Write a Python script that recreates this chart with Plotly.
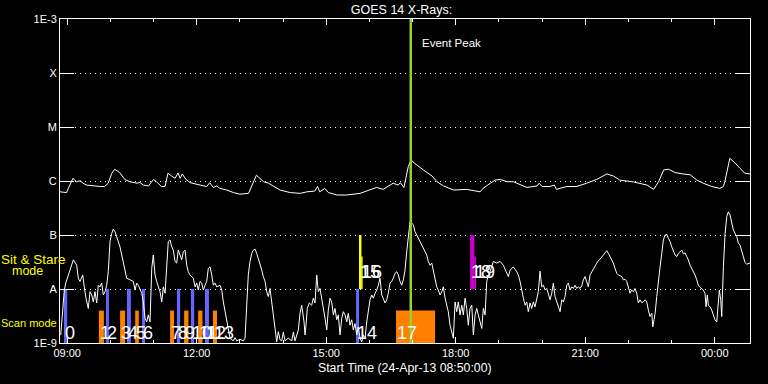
import datetime as dt
import plotly.graph_objects as go

START = dt.datetime(2013, 4, 24, 8, 50, 0)
END_MIN = 959  # minutes after start shown on the time axis

# GOES 14 long channel (1-8 A), minutes after start, flux W/m^2
long_minutes = [0, 9, 18, 23, 28, 32, 37, 46, 56, 62, 67, 72, 76, 83, 90, 97, 107, 111, 116, 123,
                130, 134, 141, 146, 150, 155, 160, 164, 167, 170, 175, 181, 185, 195, 204, 208, 213,
                218, 222, 232, 241, 250, 262, 266, 273, 283, 290, 296, 306, 320, 334, 343, 354, 358,
                361, 368, 373, 385, 398, 417, 431, 440, 449, 456, 463, 470, 473, 478, 484, 488, 493,
                505, 517, 524, 533, 547, 565, 584, 588, 598, 605, 612, 621, 630, 639, 649, 663, 666,
                670, 681, 687, 690, 704, 718, 732, 746, 760, 769, 778, 797, 816, 825, 832, 839, 846,
                855, 866, 876, 885, 894, 906, 917, 922, 924, 931, 938, 945, 952, 959]
long_flux = [6.3e-7, 6.1e-7, 1.12e-6, 9.7e-7, 1.01e-6, 9.1e-7, 8.4e-7, 8.1e-7, 7.9e-7, 7.9e-7,
             9.1e-7, 1.39e-6, 1.65e-6, 1.43e-6, 1.07e-6, 9.7e-7, 9.1e-7, 9.4e-7, 8.4e-7, 8.1e-7,
             1.07e-6, 9.7e-7, 7.9e-7, 7.9e-7, 1.39e-6, 1.24e-6, 1.12e-6, 1.41e-6, 1.12e-6, 1.35e-6,
             1.07e-6, 9.3e-7, 9.1e-7, 8.4e-7, 7.9e-7, 9.3e-7, 7.6e-7, 8.1e-7, 7.3e-7, 6.8e-7,
             6.1e-7, 5.7e-7, 5.9e-7, 7.9e-7, 1.28e-6, 9.7e-7, 9.1e-7, 8.1e-7, 6.8e-7, 6.1e-7,
             5.9e-7, 6.3e-7, 6.5e-7, 7.9e-7, 6.3e-7, 7.3e-7, 6.1e-7, 5.5e-7, 5.5e-7, 5.9e-7,
             6.8e-7, 7.6e-7, 7.0e-7, 8.1e-7, 9.1e-7, 8.4e-7, 9.3e-7, 7.6e-7, 1.84e-6, 2.45e-6,
             2.12e-6, 1.6e-6, 1.24e-6, 9.7e-7, 8.1e-7, 6.8e-7, 7.0e-7, 6.3e-7, 7.3e-7, 9.1e-7,
             1.04e-6, 1.07e-6, 9.7e-7, 9.7e-7, 8.7e-7, 7.6e-7, 8.1e-7, 9.1e-7, 7.9e-7, 7.9e-7,
             8.4e-7, 7.0e-7, 7.9e-7, 7.9e-7, 9.1e-7, 1.07e-6, 1.35e-6, 1.24e-6, 1.04e-6, 9.6e-7,
             8.4e-7, 7.0e-7, 9.7e-7, 1.6e-6, 1.65e-6, 1.43e-6, 1.35e-6, 1.3e-6, 1.04e-6, 9.1e-7,
             7.9e-7, 7.3e-7, 7.9e-7, 9.7e-7, 2.63e-6, 2.18e-6, 1.72e-6, 1.39e-6, 1.35e-6]

# GOES 14 short channel (0.5-4 A), minutes after start, log10 of flux W/m^2
short_minutes = [1, 6, 8, 18.5, 23.2, 25.4, 27.8, 30.2, 31.6, 33.4, 36.1, 39.3, 41.7, 44.1, 46.3,
                 48.7, 51, 53.2, 55.6, 58, 60.2, 62.6, 64.9, 67.1, 69.5, 71.9, 74.1, 76.5, 78.8, 81,
                 83.4, 85.8, 88, 90.4, 92.7, 97.3, 101.9, 104.3, 106.6, 108.8, 111.2, 113.6, 115.8,
                 118.2, 120.5, 122.7, 125.1, 127.5, 129.7, 132.1, 134.4, 139, 141.4, 143.6, 146,
                 148.3, 150.5, 152.9, 155.3, 157.5, 159.9, 162.2, 164.4, 166.8, 169.2, 171.4, 173.8,
                 176.1, 178.3, 180.7, 183.1, 185.3, 187.7, 190, 192.2, 194.6, 197, 199.2, 201.6,
                 203.9, 206.1, 208.5, 210.9, 213.1, 215.5, 217.8, 222.4, 224.8, 227, 229.4, 231.7,
                 233.9, 236.3, 238.7, 240.9, 243.3, 245.6, 250.2, 254.8, 257.2, 259.5, 261.7, 264.1,
                 266.5, 268.7, 271.1, 273.4, 275.6, 278, 280.4, 282.6, 285, 287.3, 289.5, 291.9,
                 294.3, 296.5, 298.9, 301.2, 303.4, 305.8, 308.2, 310.4, 312.8, 317.3, 322.1, 324.3,
                 326.7, 331.2, 333.6, 335.9, 339.2, 340.6, 341.9, 343.7, 346.5, 349.8, 352.1, 354.4,
                 356.8, 359, 361.4, 363.7, 366, 368.3, 370.7, 372.9, 375.3, 377.6, 379.9, 382.2,
                 384.6, 386.8, 389.2, 391.6, 393.8, 396.2, 398.5, 400.7, 403.1, 405.5, 407.7, 410,
                 412.4, 414.6, 417, 419.3, 421.6, 424, 426.3, 428.5, 430.9, 433.3, 435.5, 437.9,
                 440.2, 442.4, 444.8, 447.2, 449.4, 451.8, 454.1, 456.3, 458.7, 461, 463.3, 465.6,
                 468, 470.2, 472.6, 474.9, 477.2, 479.5, 481.9, 484.1, 486.5, 491.1, 493.4, 495.8,
                 500.4, 505, 509.7, 511.9, 514.3, 516.7, 518.9, 521.3, 523.6, 525.8, 528.2, 530.6,
                 532.8, 535.2, 537.5, 539.7, 542.1, 544.5, 546.7, 549.1, 551.4, 553.6, 556, 558.4,
                 560.6, 563, 565.3, 567.5, 569.9, 572.3, 574.5, 576.9, 579.2, 581.4, 583.8, 586.2,
                 588.4, 590.8, 593.1, 595.3, 597.7, 600.1, 602.3, 607, 611.6, 616.2, 620.9, 623.1,
                 625.5, 630.1, 634.8, 637, 639.4, 641.8, 644, 646.4, 648.7, 650.9, 653.3, 655.6,
                 657.9, 660.2, 662.6, 664.8, 667.2, 669.5, 671.8, 674.2, 676.5, 678.7, 681.1, 683.4,
                 685.7, 688, 690.4, 692.6, 695, 697.4, 699.6, 701.9, 704.3, 706.5, 708.9, 711.3,
                 713.5, 715.9, 718.2, 720.4, 722.8, 725.2, 727.4, 729.8, 732.1, 734.3, 736.7, 739,
                 741.3, 743.6, 746, 748.2, 750.6, 752.9, 755.2, 757.6, 759.9, 762.1, 764.5, 766.9,
                 769.1, 771.5, 773.8, 776, 778.4, 780.8, 783, 785.4, 787.7, 789.9, 792.3, 794.6,
                 796.9, 799.2, 801.6, 803.8, 806.2, 808.5, 810.8, 813.2, 815.5, 817.7, 820.1, 822.5,
                 823.9, 825.7, 827.1, 829.4, 831.6, 834, 836.4, 838.6, 841, 843.3, 845.5, 847.9,
                 850.2, 852.4, 854.8, 857.2, 859.4, 861.8, 864.2, 866.4, 868.8, 871.1, 873.3, 875.7,
                 878.1, 880.3, 882.6, 885, 887.2, 889.6, 891.9, 894.1, 896.5, 897.9, 899.7, 901.1,
                 903.5, 905.8, 908, 910.4, 912.8, 915, 916.4, 918.3, 919.7, 922, 924.4, 926.7, 928.9,
                 931.3, 933.7, 935.9, 940.6, 942.8, 945.2, 947.5, 949.7, 952.1, 954.5, 959.1]
short_log_flux = [-8.85, -8.02, -7.89, -7.46, -7.56, -7.80, -7.86, -7.77, -7.74, -7.93, -8.17, -8.36,
                  -8.05, -8.11, -8.24, -8.05, -8.26, -7.93, -7.96, -7.89, -8.11, -8.05, -7.93, -7.68,
                  -7.12, -6.97, -6.89, -6.94, -7.03, -7.12, -7.22, -7.37, -7.49, -7.62, -7.80, -7.83,
                  -7.86, -8.02, -7.89, -7.93, -8.02, -8.08, -8.24, -8.54, -8.61, -8.48, -8.61, -7.62,
                  -7.37, -7.74, -7.86, -8.05, -8.24, -7.96, -8.08, -7.68, -7.12, -7.09, -7.22, -7.28,
                  -7.49, -7.52, -7.28, -7.37, -7.46, -7.31, -7.28, -7.56, -7.68, -7.74, -7.77, -7.80,
                  -7.96, -7.89, -8.02, -7.86, -7.89, -8.02, -7.93, -7.86, -7.62, -7.59, -7.74, -7.93,
                  -7.89, -7.96, -7.93, -8.02, -8.24, -8.42, -8.61, -8.79, -8.91, -8.94, -8.96, -8.90,
                  -8.96, -8.93, -8.96, -8.91, -8.17, -7.74, -7.49, -7.34, -7.28, -7.26, -7.34, -7.43,
                  -7.52, -7.65, -7.77, -7.86, -8.05, -8.14, -7.99, -8.24, -8.42, -8.67, -8.98, -8.79,
                  -8.94, -8.96, -8.80, -8.96, -8.91, -8.96, -8.80, -8.96, -8.76, -8.45, -8.30, -8.61,
                  -8.85, -8.67, -8.36, -8.26, -8.30, -8.17, -8.26, -7.74, -8.05, -7.99, -8.17, -8.30,
                  -8.54, -8.76, -8.39, -8.17, -8.24, -8.48, -8.36, -8.57, -8.48, -8.85, -8.54, -8.42,
                  -8.48, -8.61, -8.45, -8.67, -8.57, -8.76, -8.64, -8.85, -8.70, -8.91, -8.98, -8.85,
                  -8.91, -8.61, -8.36, -8.20, -8.11, -8.17, -8.08, -8.02, -7.93, -7.80, -8.11, -8.20,
                  -8.26, -8.20, -8.08, -7.89, -7.86, -7.80, -7.71, -7.68, -7.74, -7.86, -7.93, -7.83,
                  -7.65, -7.31, -7.00, -6.75, -6.81, -6.94, -7.00, -7.12, -7.25, -7.37, -7.49, -7.56,
                  -7.52, -7.68, -7.80, -7.96, -8.02, -8.11, -8.05, -7.96, -8.17, -8.33, -8.42, -8.67,
                  -8.79, -8.91, -8.24, -8.42, -8.24, -8.48, -8.30, -8.48, -8.17, -8.36, -8.67, -8.36,
                  -8.30, -8.85, -8.48, -8.36, -8.48, -8.61, -8.73, -8.36, -8.48, -7.86, -7.74, -7.68,
                  -7.56, -7.49, -7.52, -7.49, -7.56, -7.71, -7.77, -7.65, -7.59, -7.68, -7.74, -7.86,
                  -8.05, -8.17, -8.30, -8.24, -8.42, -8.26, -8.36, -8.24, -8.33, -8.20, -8.05, -7.67,
                  -7.96, -7.93, -8.02, -7.99, -8.08, -8.20, -8.08, -7.89, -8.14, -8.24, -8.33, -8.42,
                  -8.20, -8.24, -8.14, -7.93, -7.89, -8.02, -7.96, -7.99, -7.93, -7.99, -7.96, -7.99,
                  -7.94, -7.83, -7.77, -7.86, -7.96, -7.74, -7.68, -7.65, -7.59, -7.52, -7.48, -7.45,
                  -7.41, -7.37, -7.33, -7.29, -7.34, -7.40, -7.46, -7.52, -7.62, -7.71, -7.74, -7.76,
                  -7.77, -7.83, -7.82, -7.86, -7.96, -8.08, -8.02, -8.05, -7.99, -8.08, -8.26, -8.20,
                  -8.25, -8.24, -8.20, -8.24, -8.39, -8.51, -8.45, -8.70, -8.57, -8.45, -8.14, -7.83,
                  -7.59, -7.34, -7.09, -7.00, -6.99, -7.06, -7.12, -7.22, -7.31, -7.37, -7.40, -7.34,
                  -7.31, -7.28, -7.35, -7.33, -7.40, -7.46, -7.56, -7.62, -7.68, -7.74, -7.83, -7.93,
                  -7.97, -7.99, -8.02, -8.08, -8.33, -8.11, -8.30, -8.33, -8.39, -8.48, -8.57, -8.61,
                  -8.26, -8.02, -8.20, -8.51, -7.59, -6.97, -6.66, -6.57, -6.63, -6.78, -6.91, -7.03,
                  -7.15, -7.19, -7.31, -7.43, -7.51, -7.54, -7.52]

# Observations (numbered 0-19): start/end minutes after START
obs_ids = list(range(20))
obs_start_min = [5.5, 54, 64, 83.5, 93, 104.5, 114, 153, 162.5, 172.5, 182, 192, 201.5, 212.5,
                 411.5, 415.6, 418.6, 467, 570, 576]
obs_end_min = [10, 61, 68, 90.5, 98.5, 109.5, 118.2, 158.5, 167, 178.5, 186.5, 198, 207, 218.2,
               415.6, 419, 420.6, 521.3, 576, 578.3]
obs_mode = ["scan"] * 15 + ["sit", "sit", "scan", "sit", "sit"]
obs_fraction = [1, 0.6, 1, 0.6, 1, 0.6, 1, 0.6, 1, 0.6, 1, 0.6, 1, 0.6, 1, 1, 0.6, 0.6, 1, 0.6]
obs_color = ["#6666ff", "#ff8000", "#6666ff", "#ff8000", "#6666ff", "#ff8000", "#6666ff",
             "#ff8000", "#6666ff", "#ff8000", "#6666ff", "#ff8000", "#6666ff", "#ff8000",
             "#6666ff", "#ffff00", "#ffff00", "#ff8000", "#cc00cc", "#cc00cc"]
band_base_log = {"scan": -9, "sit": -8}

event_peak_min = 487.5

ytick_vals = [1e-9, 1e-8, 1e-7, 1e-6, 1e-5, 1e-4, 1e-3]
ytick_text = ["1E-9", "A", "B", "C", "M", "X", "1E-3"]


def tm(m):
    return START + dt.timedelta(minutes=m)


FONT = "Liberation Sans"
fig = go.Figure()

# observation bars
for i, c in enumerate(obs_color):
    b = band_base_log[obs_mode[i]]
    lo, hi = 10 ** b, 10 ** (b + obs_fraction[i])
    t0, t1 = tm(obs_start_min[i]), tm(obs_end_min[i])
    fig.add_trace(go.Scatter(x=[t0, t1, t1, t0, t0], y=[lo, lo, hi, hi, lo], mode="lines",
                             fill="toself", fillcolor=c, line=dict(width=0, color=c),
                             hoverinfo="skip", showlegend=False))

fig.add_trace(go.Scatter(x=[tm(m) for m in long_minutes], y=long_flux, mode="lines",
                         line=dict(color="white", width=1), showlegend=False))
fig.add_trace(go.Scatter(x=[tm(m) for m in short_minutes], y=[10 ** v for v in short_log_flux],
                         mode="lines", line=dict(color="white", width=1), showlegend=False))
fig.add_trace(go.Scatter(x=[tm(event_peak_min)] * 2, y=[1e-9, 1e-3], mode="lines",
                         line=dict(color="#9acd32", width=2.5), showlegend=False))

# observation numbers
for i in obs_ids:
    ylab = -8.82 if obs_mode[i] == "scan" else -7.69
    fig.add_annotation(x=tm(obs_start_min[i]), y=ylab, text=str(i), showarrow=False,
                       xanchor="left", yanchor="middle", xshift=-1,
                       font=dict(family=FONT, size=18, color="white"))

fig.add_annotation(x=tm(event_peak_min), y=0.926, yref="paper", text="Event Peak", showarrow=False,
                   xanchor="left", yanchor="middle", xshift=9,
                   font=dict(family=FONT, size=11.5, color="white"))
fig.add_annotation(x=-0.0841, xref="paper", y=0.259, yref="paper", text="Sit & Stare",
                   showarrow=False, xanchor="left", yanchor="middle", xshift=-3,
                   font=dict(family=FONT, size=13.5, color="yellow"))
fig.add_annotation(x=-0.0681, xref="paper", y=0.222, yref="paper", text="mode",
                   showarrow=False, xanchor="left", yanchor="middle", xshift=-3,
                   font=dict(family=FONT, size=12.5, color="yellow"))
fig.add_annotation(x=-0.0841, xref="paper", y=0.0617, yref="paper", text="Scan mode",
                   showarrow=False, xanchor="left", yanchor="middle", xshift=-3,
                   font=dict(family=FONT, size=11, color="yellow"))
fig.add_annotation(x=0.5, xref="paper", y=-0.077, yref="paper",
                   text="Start Time (" + START.strftime("%d-%b-%y %H:%M:%S") + ")",
                   showarrow=False, xanchor="center", yanchor="middle",
                   font=dict(family=FONT, size=12.3, color="white"))

fig.update_layout(
    width=768, height=384,
    margin=dict(l=60, r=18, t=19, b=41),
    paper_bgcolor="black", plot_bgcolor="black",
    title=dict(text="GOES 14 X-Rays:", x=0.495, xref="paper", y=0.974, yref="container",
               xanchor="center", yanchor="middle",
               font=dict(family=FONT, size=12.5, color="white")),
    font=dict(family=FONT, color="white", size=11),
    xaxis=dict(type="date", range=[START, tm(END_MIN)], tickformat="%H:%M",
               tick0="2013-04-24 09:00:00", dtick=3 * 3600 * 1000,
               ticks="inside", ticklen=6, tickcolor="white", tickwidth=1,
               minor=dict(tick0="2013-04-24 09:00:00", dtick=3600 * 1000, ticks="inside",
                          ticklen=3, tickcolor="white"),
               showline=True, linecolor="white", linewidth=1, mirror="ticks",
               showgrid=False, zeroline=False, tickfont=dict(size=11, color="white")),
    yaxis=dict(type="log", range=[-9, -3], tickmode="array", tickvals=ytick_vals,
               ticktext=ytick_text, ticks="inside", ticklen=14, tickcolor="white",
               showline=True, linecolor="white", linewidth=1, mirror="ticks",
               showgrid=True, gridcolor="white", gridwidth=1, griddash="1px,4px",
               zeroline=False, tickfont=dict(size=11, color="white")),
)

fig.write_html("out.html", config={"displayModeBar": False},
               post_script="document.body.style.margin='0';"
                           "document.body.style.overflow='hidden';"
                           "document.body.style.background='black';")
